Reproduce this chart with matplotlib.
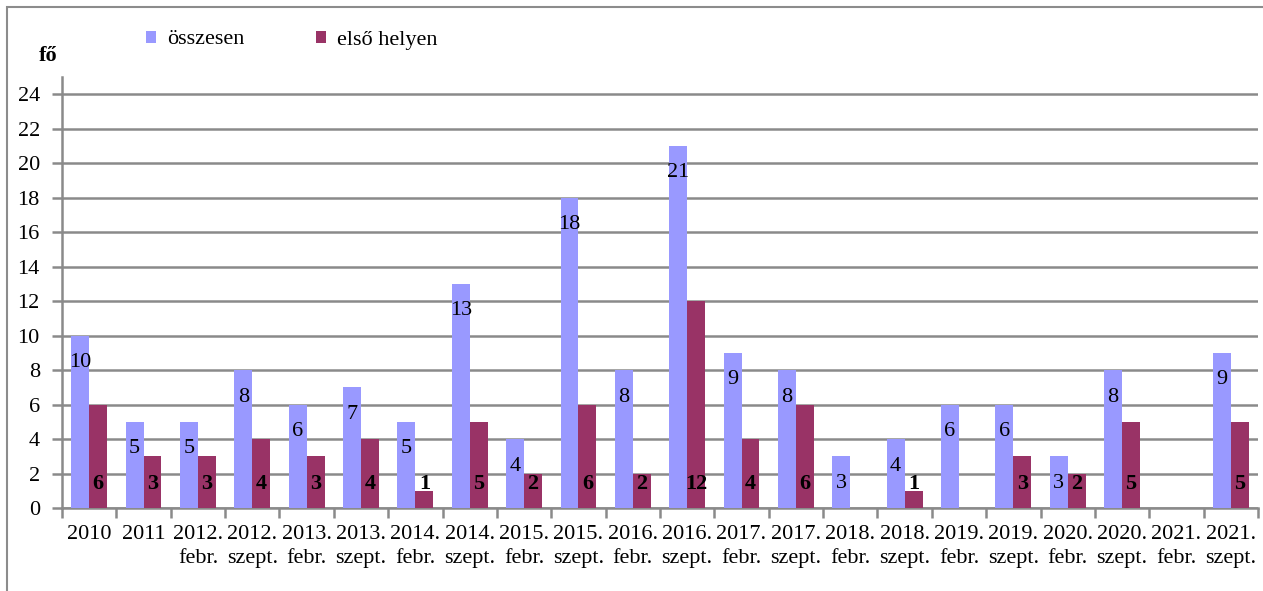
import numpy as np
import matplotlib

matplotlib.use("Agg")
import matplotlib.pyplot as plt
from matplotlib.patches import Rectangle

categories = [
    "2010", "2011", "2012.\nfebr.", "2012.\nszept.", "2013.\nfebr.", "2013.\nszept.",
    "2014.\nfebr.", "2014.\nszept.", "2015.\nfebr.", "2015.\nszept.", "2016.\nfebr.",
    "2016.\nszept.", "2017.\nfebr.", "2017.\nszept.", "2018.\nfebr.", "2018.\nszept.",
    "2019.\nfebr.", "2019.\nszept.", "2020.\nfebr.", "2020.\nszept.", "2021.\nfebr.",
    "2021.\nszept.",
]
osszesen = [10, 5, 5, 8, 6, 7, 5, 13, 4, 18, 8, 21, 9, 8, 3, 4, 6, 6, 3, 8, 0, 9]
elso_helyen = [6, 3, 3, 4, 3, 4, 1, 5, 2, 6, 2, 12, 4, 6, 0, 1, 0, 3, 2, 5, 0, 5]

BLUE = "#9999ff"
RED = "#993366"
GRID = "#8a8a8a"
FS = 16

plt.rcParams["font.family"] = ["Liberation Serif", "DejaVu Serif"]

fig = plt.figure(figsize=(12.63, 5.91), dpi=100)
ax = fig.add_axes([0.0491, 0.1404, 0.9469, 0.7293])

x = np.arange(len(categories))
w = 0.33
b1 = ax.bar(x - w / 2, osszesen, w, color=BLUE, label="összesen", zorder=3)
b2 = ax.bar(x + w / 2, elso_helyen, w, color=RED, label="első helyen", zorder=3)

# data labels: totals inside the top, first places bold at the base
for xi, v in zip(x, osszesen):
    if v > 0:
        ax.annotate(str(v), (xi - w / 2, v), xytext=(0, -27), textcoords="offset pixels",
                    ha="center", va="center", fontsize=FS, zorder=4)
for xi, v in zip(x, elso_helyen):
    if v > 0:
        ax.annotate(str(v), (xi + w / 2, 0), xytext=(0, 24), textcoords="offset pixels",
                    ha="center", va="center", fontsize=FS, fontweight="bold", zorder=4)

ax.set_xlim(-0.5, len(categories) - 0.5)
ax.set_ylim(0, 25)
ax.set_yticks(np.arange(0, 25, 2))
ax.yaxis.grid(True, color=GRID, linewidth=1.8, zorder=0)
ax.set_axisbelow(True)

ax.set_xticks(x)
ax.set_xticklabels(categories, fontsize=FS, linespacing=1.35)
ax.tick_params(axis="x", length=0, pad=12)
ax.set_xticks(np.arange(-0.5, len(categories)), minor=True)
ax.tick_params(axis="x", which="minor", length=7, width=1.8, color=GRID)
ax.tick_params(axis="y", labelsize=FS, length=7, width=1.8, color=GRID, pad=9)

for s in ["top", "right"]:
    ax.spines[s].set_visible(False)
for s in ["left", "bottom"]:
    ax.spines[s].set_color(GRID)
    ax.spines[s].set_linewidth(1.8)

fig.text(48 / 1263, 1 - 56 / 591, "fő", fontsize=FS, fontweight="bold", ha="center", va="center")

fig.legend(handles=[b1, b2], loc="center left", bbox_to_anchor=(146 / 1263, 1 - 40 / 591),
           ncol=2, frameon=False, fontsize=FS, handlelength=0.45, handleheight=0.45,
           handletextpad=0.5, columnspacing=3.2, borderpad=0, borderaxespad=0)

# outer chart frame (left and top visible)
fig.patches.append(Rectangle((7 / 1263, -0.1), 1.2, 1 - 7 / 591 + 0.1, transform=fig.transFigure,
                             fill=False, edgecolor="#8c8c8c", linewidth=1.5))

fig.savefig("out.png", dpi=100)
